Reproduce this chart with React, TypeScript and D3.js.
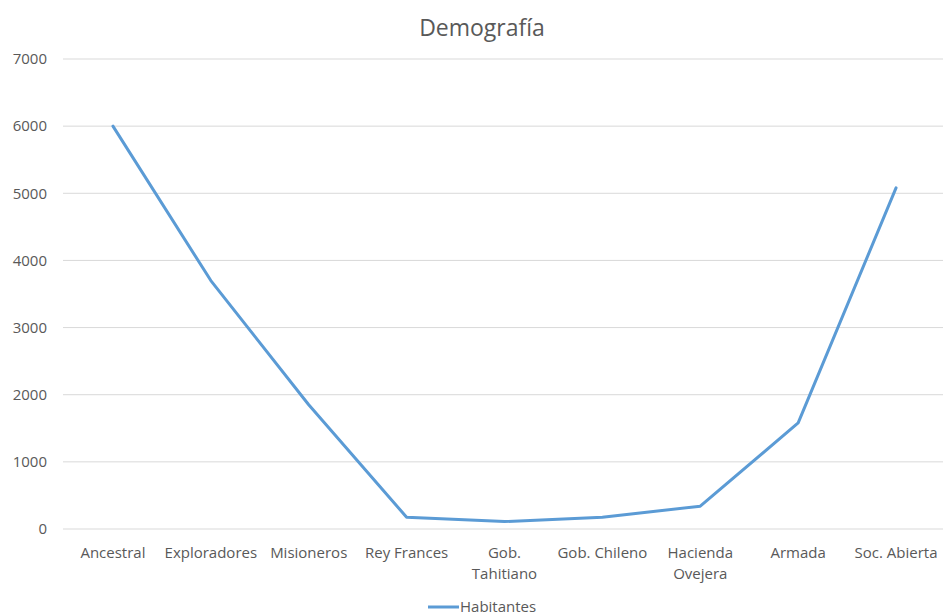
import React from "react";
import * as d3 from "d3";

const categories = [
  "Ancestral",
  "Exploradores",
  "Misioneros",
  "Rey Frances",
  "Gob. Tahitiano",
  "Gob. Chileno",
  "Hacienda Ovejera",
  "Armada",
  "Soc. Abierta",
];
const habitantes = [6000, 3700, 1850, 175, 110, 175, 340, 1580, 5080];
const yTicks = [0, 1000, 2000, 3000, 4000, 5000, 6000, 7000];
const wrapped = ["Gob. Tahitiano", "Hacienda Ovejera"];
const seriesName = "Habitantes";
const title = "Demografía";

const W = 943;
const H = 616;
const M = { left: 63, right: 945, top: 59, bottom: 529 };
const FONT = "'Open Sans', 'Noto Sans', sans-serif";
const TEXT = "#595959";
const FS = 15;

export default function App() {
  const x = d3.scaleBand<string>().domain(categories).range([M.left + 1, M.right]);
  const y = d3.scaleLinear().domain([0, 7000]).range([M.bottom, M.top]);
  const cx = (c: string) => (x(c) as number) + x.bandwidth() / 2;
  const line = d3
    .line<number>()
    .x((_, i) => cx(categories[i]))
    .y((d) => y(d));

  return (
    <div style={{ position: "fixed", left: 0, top: 0, background: "#fff" }}>
      <svg width={W} height={H} style={{ display: "block" }}>
        <rect width={W} height={H} fill="#fff" />
        <text x={482} y={36} textAnchor="middle" fontFamily={FONT} fontSize={23} fill={TEXT}>
          {title}
        </text>
        {yTicks.map((t) => (
          <g key={t}>
            <line x1={M.left} x2={W} y1={y(t)} y2={y(t)} stroke="#d9d9d9" strokeWidth={1} />
            <text
              x={47}
              y={y(t)}
              dy="0.35em"
              textAnchor="end"
              fontFamily={FONT}
              fontSize={FS}
              fill={TEXT}
            >
              {t}
            </text>
          </g>
        ))}
        {categories.map((c) => {
          const lines = wrapped.includes(c) ? c.split(" ") : [c];
          return (
            <text key={c} textAnchor="middle" fontFamily={FONT} fontSize={FS} fill={TEXT}>
              {lines.map((l, i) => (
                <tspan key={i} x={cx(c)} y={558 + i * 21}>
                  {l}
                </tspan>
              ))}
            </text>
          );
        })}
        <path
          d={line(habitantes) || ""}
          fill="none"
          stroke="#5b9bd5"
          strokeWidth={3}
          strokeLinejoin="round"
          strokeLinecap="round"
        />
        <line x1={428} x2={459} y1={607} y2={607} stroke="#5b9bd5" strokeWidth={3} />
        <text x={460} y={607} dy="0.35em" fontFamily={FONT} fontSize={FS} fill={TEXT}>
          {seriesName}
        </text>
      </svg>
    </div>
  );
}
